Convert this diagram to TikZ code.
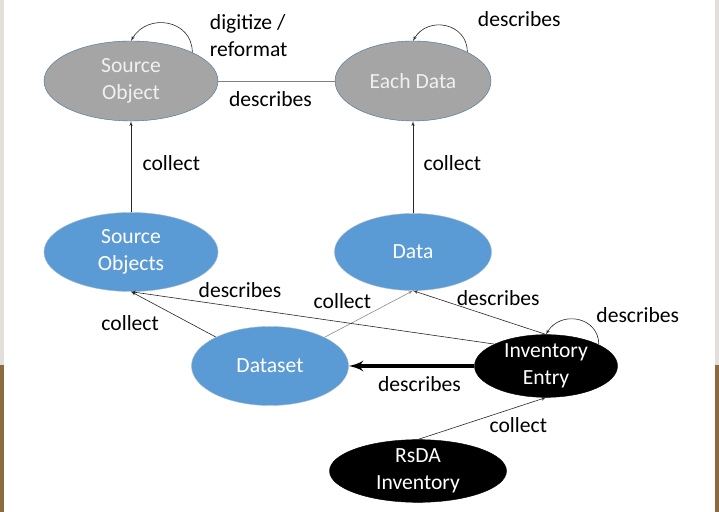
\documentclass[tikz,border=0pt]{standalone}
\usepackage{fontspec}
\setmainfont{Carlito}
\usepackage{tikz}
\usetikzlibrary{positioning}
\usetikzlibrary{shapes,arrows}
\definecolor{objgray}{HTML}{A5A5A5}
\definecolor{objblue}{HTML}{5B9BD5}
\definecolor{rimblue}{HTML}{41719C}
\definecolor{sidegray}{HTML}{E2DFDA}
\definecolor{wood}{HTML}{8B6A40}
\tikzstyle{oldobj} = [ellipse, draw=rimblue, fill=objgray, text=white!94!black,
    align=center, inner sep=0pt, minimum width=174bp, minimum height=80bp]
\tikzstyle{newobj} = [ellipse, draw=rimblue!50, fill=objblue, text=white,
    align=center, inner sep=0pt, minimum width=157bp, minimum height=79bp]
\tikzstyle{invobj} = [ellipse, draw, fill=black, text=white,
    align=center, inner sep=0pt, minimum width=143bp, minimum height=57bp]
\tikzstyle{line} = [draw=black!85, -latex', line width=0.6bp]
\tikzstyle{plain} = [draw=black!50, line width=0.8bp]

\begin{document}
\begin{tikzpicture}[x=1bp, y=1bp, node distance=171bp, auto,
    font=\fontsize{21.6bp}{27bp}\selectfont]
            % Background
        \fill[white] (0,0) rectangle (719,512);
        \fill[sidegray] (0,147) rectangle (4,512);
        \fill[wood] (0,0) rectangle (4,147);
        \fill[sidegray] (715,147) rectangle (719,512);
        \fill[wood] (715,0) rectangle (719,147);
            % Nodes
        \node [oldobj] (srcobj) at (131,431) {Source\\Object};
        \node [oldobj, minimum width=156bp, node distance=282bp, right of=srcobj] (eachdata) {Each Data};
        \node [newobj, minimum width=174bp, below of=srcobj] (srcobjs) {Source\\Objects};
        \node [newobj, minimum height=77bp, below of=eachdata] (data) {Data};
        \node [newobj] (dataset) at (270,146) {Dataset};
        \node [invobj, node distance=276bp, right of=dataset] (inventry) {Inventory\\Entry};
        \node [invobj, minimum width=177bp, minimum height=58bp] (rsda) at (418,41) {RsDA\\Inventory};
            % Edges
        \path [plain] (srcobj) --node[below, xshift=-6bp, yshift=-7bp] {describes} (eachdata);
        \path [line] (srcobj.25) to[out=90, in=60, looseness=1.35]
            node[pos=0, anchor=west, align=left, xshift=14bp, yshift=17bp] {digitize /\\reformat} (srcobj.north);
        \path [line] (eachdata.28) to[out=90, in=60, looseness=1.35]
            node[pos=0, above right, xshift=7bp, yshift=22bp] {describes} (eachdata.north);
        \path [line] (srcobjs) --node[right, xshift=8bp, yshift=4bp] {collect} (srcobj);
        \path [line] (data) --node[right, xshift=7bp, yshift=4bp] {collect} (eachdata);
        \path [line] (dataset) --node[below left, xshift=-11bp, yshift=3bp] {collect} (srcobjs.south);
        \path [line, draw=black!45] (dataset) --node[above left, xshift=6bp, yshift=2bp] {collect} (data.south);
        \path [line] (inventry.157) --node[above, pos=0.7, yshift=6bp] {describes} (srcobjs.south);
        \path [line] (inventry.north) --node[above right, pos=0.75, xshift=7bp, yshift=-8bp] {describes} (data.south);
        \path [line] (inventry.22) to[out=90, in=60, looseness=1.35]
            node[pos=0, above right, xshift=-6bp, yshift=18bp] {describes} (inventry.north);
        \path [line, line width=4bp, draw=black] (inventry) --node[below, xshift=8bp, yshift=-5bp] {describes} (dataset);
        \path [line] (rsda.north) --node[below right, xshift=4bp, yshift=5bp] {collect} (inventry.south);
    \end{tikzpicture}
\end{document}
